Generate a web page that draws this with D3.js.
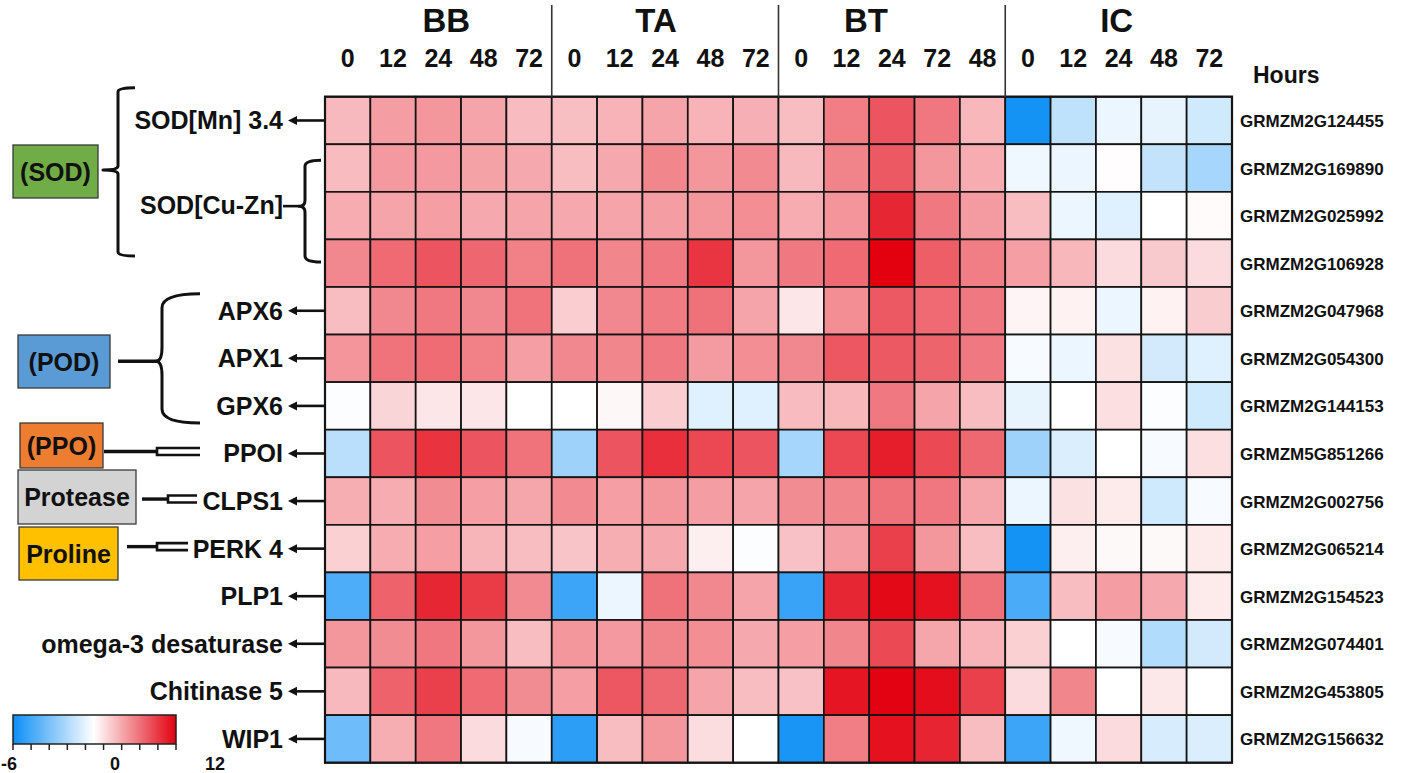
<!DOCTYPE html>
<html>
<head>
<meta charset="utf-8">
<script src="https://cdn.jsdelivr.net/npm/d3@7"></script>
<style>
  html, body { margin: 0; padding: 0; background: #ffffff; }
  svg { display: block; }
  text { font-family: "Liberation Sans", Arial, sans-serif; font-weight: bold; fill: #111; }
</style>
</head>
<body>
<svg id="chart" width="1416" height="773"></svg>
<script>
// ---------------- DATA ----------------
const groups = ["BB", "TA", "BT", "IC"];
const hoursBB = ["0", "12", "24", "48", "72"];
const hoursTA = ["0", "12", "24", "48", "72"];
const hoursBT = ["0", "12", "24", "72", "48"];
const hoursIC = ["0", "12", "24", "48", "72"];

const geneIds = ["GRMZM2G124455", "GRMZM2G169890", "GRMZM2G025992", "GRMZM2G106928",
  "GRMZM2G047968", "GRMZM2G054300", "GRMZM2G144153", "GRMZM5G851266", "GRMZM2G002756",
  "GRMZM2G065214", "GRMZM2G154523", "GRMZM2G074401", "GRMZM2G453805", "GRMZM2G156632"];

// left-hand gene names (null = covered by the SOD[Cu-Zn] bracket)
const geneNames = ["SOD[Mn] 3.4", null, null, null, "APX6", "APX1", "GPX6", "PPOI", "CLPS1",
  "PERK 4", "PLP1", "omega-3 desaturase", "Chitinase 5", "WIP1"];
const bracketLabel = { name: "SOD[Cu-Zn]", rows: [1, 3] };

// enzyme classes: [label, first row, last row]
const enzymeClasses = ["(SOD)", "(POD)", "(PPO)", "Protease", "Proline"];
const enzymeRows = [[0, 3], [4, 6], [7, 7], [8, 8], [9, 9]];

// expression values, rows = genes, columns = hours
const valuesBB = [
  [3.3, 4.6, 4.9, 4.3, 3.2],
  [3.2, 4.8, 4.8, 4.4, 4.1],
  [3.9, 4.3, 4.5, 4.1, 4.3],
  [5.6, 7.0, 8.0, 7.2, 6.0],
  [3.1, 5.6, 6.3, 5.6, 6.6],
  [5.0, 6.6, 6.9, 6.0, 4.5],
  [-0.1, 2.0, 1.2, 1.2, 0.0],
  [-1.7, 8.0, 9.6, 8.0, 6.6],
  [3.8, 3.9, 5.4, 4.5, 4.2],
  [2.2, 3.9, 4.5, 3.5, 3.1],
  [-4.4, 7.4, 10.2, 9.2, 5.5],
  [4.9, 5.4, 6.4, 4.9, 3.1],
  [3.3, 7.4, 9.0, 7.0, 5.4],
  [-3.6, 3.8, 6.4, 1.7, -0.2]
];
const valuesTA = [
  [3.0, 3.6, 4.3, 3.6, 3.7],
  [3.1, 4.1, 5.7, 4.9, 5.5],
  [4.1, 4.3, 4.6, 4.9, 5.3],
  [6.7, 5.7, 6.3, 9.5, 4.9],
  [2.3, 5.6, 6.2, 6.7, 4.3],
  [5.6, 5.7, 6.3, 4.7, 5.3],
  [0.0, 0.4, 2.3, -0.8, -0.8],
  [-2.4, 8.0, 9.8, 8.6, 8.0],
  [5.5, 4.5, 4.9, 4.6, 4.3],
  [2.8, 3.8, 4.1, 0.8, -0.1],
  [-4.8, -0.5, 6.7, 5.6, 4.3],
  [4.9, 4.8, 5.8, 5.3, 4.1],
  [4.5, 7.9, 7.1, 4.3, 3.1],
  [-5.2, 3.1, 4.9, 1.6, 0.0]
];
const valuesBT = [
  [3.1, 6.1, 8.0, 6.4, 3.4],
  [3.3, 5.8, 7.8, 4.9, 3.9],
  [3.9, 5.0, 10.2, 6.3, 4.7],
  [6.3, 7.0, 12.0, 7.6, 6.1],
  [1.2, 5.3, 7.8, 7.0, 6.3],
  [5.6, 7.9, 7.8, 7.3, 6.3],
  [3.2, 3.4, 6.3, 4.3, 3.1],
  [-2.2, 8.6, 10.6, 8.5, 7.1],
  [5.4, 5.7, 6.7, 6.4, 4.2],
  [2.9, 4.6, 9.0, 4.9, 3.1],
  [-4.9, 10.2, 11.6, 11.2, 6.7],
  [4.5, 5.7, 8.5, 4.2, 3.6],
  [2.9, 11.0, 11.9, 11.4, 9.0],
  [-5.7, 6.1, 11.2, 10.3, 3.1]
];
const valuesIC = [
  [-5.8, -1.6, -0.5, -0.6, -1.2],
  [-0.4, -0.5, 0.1, -1.5, -2.2],
  [3.1, -0.5, -0.8, 0.0, 0.2],
  [4.5, 3.4, 1.7, 2.5, 1.7],
  [0.5, 0.6, -0.5, 0.6, 2.4],
  [-0.2, -0.5, 1.4, -1.1, -0.8],
  [-0.6, 0.0, 1.5, -0.1, -1.2],
  [-2.4, -0.9, 0.0, -0.2, 1.5],
  [-0.5, 1.4, 1.0, -1.2, -0.2],
  [-5.8, 0.8, 0.3, 0.3, 1.0],
  [-4.5, 3.1, 4.6, 4.1, 1.0],
  [2.2, 0.0, -0.2, -1.9, -1.1],
  [1.7, 5.7, 0.0, 1.1, 0.0],
  [-4.8, -0.4, 1.7, -1.0, -0.9]
];

const legendLabels = [-6, 0, 12];

// ---------------- BUILD ----------------
const groupHours = [hoursBB, hoursTA, hoursBT, hoursIC];
const groupValues = [valuesBB, valuesTA, valuesBT, valuesIC];
const columns = [];
groups.forEach((g, gi) => groupHours[gi].forEach((h, hi) => columns.push({ key: g + "_" + hi, group: g, gi, hour: h, hi })));
const cells = [];
geneIds.forEach((id, r) => columns.forEach(c => cells.push({ row: r, col: c.key, v: groupValues[c.gi][r][c.hi] })));

const svg = d3.select("#chart");
svg.append("rect").attr("width", 1416).attr("height", 773).attr("fill", "#fff");

const x = d3.scaleBand().domain(columns.map(c => c.key)).range([325, 1232]);
const y = d3.scaleBand().domain(d3.range(geneIds.length)).range([96.7, 762.7]);
const color = d3.scaleLinear().domain([-6, 0, 12]).range(["#0d8ff5", "#ffffff", "#e3000f"]).interpolate(d3.interpolateRgb).clamp(true);
const cy = r => y(r) + y.bandwidth() / 2;

// cells
svg.append("g").selectAll("rect").data(cells).join("rect")
  .attr("x", d => x(d.col)).attr("y", d => y(d.row))
  .attr("width", x.bandwidth()).attr("height", y.bandwidth())
  .attr("fill", d => color(d.v))
  .attr("stroke", "#141414").attr("stroke-width", 1.7);
svg.append("rect").attr("x", 325).attr("y", 96.7).attr("width", 907).attr("height", 666)
  .attr("fill", "none").attr("stroke", "#141414").attr("stroke-width", 2.2);

// group dividers & labels
const groupShift = [8, -9, -26, -2];
groups.forEach((g, gi) => {
  const cols = columns.filter(c => c.gi === gi);
  const mid = x(cols[2].key) + x.bandwidth() / 2;
  svg.append("text").attr("x", mid + groupShift[gi]).attr("y", 32).attr("text-anchor", "middle")
    .attr("font-size", 33).text(g);
  if (gi > 0) {
    const bx = x(cols[0].key);
    svg.append("line").attr("x1", bx).attr("x2", bx).attr("y1", 5).attr("y2", 97)
      .attr("stroke", "#333").attr("stroke-width", 1.6);
  }
});
svg.append("g").selectAll("text").data(columns).join("text")
  .attr("x", d => x(d.key) + x.bandwidth() / 2).attr("y", 67)
  .attr("text-anchor", "middle").attr("font-size", 25).text(d => d.hour);
svg.append("text").attr("x", 1253).attr("y", 83).attr("font-size", 23).text("Hours");

// right gene ids
svg.append("g").selectAll("text").data(geneIds).join("text")
  .attr("x", 1240).attr("y", (d, i) => cy(i) + 6.5).attr("font-size", 17).text(d => d);

// left gene names with arrows
const named = geneNames.map((n, i) => ({ n, i })).filter(d => d.n);
svg.append("g").selectAll("text").data(named).join("text")
  .attr("x", 283).attr("y", d => cy(d.i) + 9).attr("text-anchor", "end").attr("font-size", 25).text(d => d.n);
const arrows = svg.append("g").selectAll("g").data(named).join("g");
arrows.append("line").attr("x1", 294).attr("x2", 324).attr("y1", d => cy(d.i)).attr("y2", d => cy(d.i))
  .attr("stroke", "#111").attr("stroke-width", 2.6);
arrows.append("path").attr("d", d => `M288,${cy(d.i)} L297,${cy(d.i) - 4.5} L297,${cy(d.i) + 4.5} Z`).attr("fill", "#111");

// brace helper ("{" shape opening right)
function brace(xv, y0, y1, ym, hook, tip, r) {
  return `M${xv + hook},${y0} Q${xv},${y0} ${xv},${y0 + r} L${xv},${ym - r} Q${xv},${ym} ${xv - tip},${ym}` +
    ` Q${xv},${ym} ${xv},${ym + r} L${xv},${y1 - r} Q${xv},${y1} ${xv + hook},${y1}`;
}
const braceStyle = s => s.attr("fill", "none").attr("stroke", "#111").attr("stroke-width", 3).attr("stroke-linejoin", "round");

// SOD[Cu-Zn] bracket
const bTop = y(bracketLabel.rows[0]) + 16, bBot = y(bracketLabel.rows[1]) + y.bandwidth() - 25;
const bMid = (bTop + bBot) / 2;
svg.append("text").attr("x", 283).attr("y", bMid + 3).attr("text-anchor", "end").attr("font-size", 25).text(bracketLabel.name);
svg.append("line").attr("x1", 283).attr("x2", 299).attr("y1", bMid - 5).attr("y2", bMid - 5).attr("stroke", "#111").attr("stroke-width", 2.6);
svg.append("path").attr("d", brace(305, bTop, bBot, bMid - 5, 16, 6, 6)).call(braceStyle);

// SOD class brace
const sTop = y(enzymeRows[0][0]) - 9, sBot = y(enzymeRows[0][1]) + y.bandwidth() - 31;
svg.append("path").attr("d", brace(118, sTop, sBot, 170, 17, 15, 4)).call(braceStyle);
// POD class brace
const pTop = cy(enzymeRows[1][0]) - 17, pBot = cy(enzymeRows[1][1]) + 17;
const pMid = (pTop + pBot) / 2 + 3;
svg.append("path").attr("d", brace(162, pTop, pBot, pMid, 38, 6, 14)).call(braceStyle);
svg.append("line").attr("x1", 118).attr("x2", 158).attr("y1", pMid).attr("y2", pMid).attr("stroke", "#111").attr("stroke-width", 3.5);

// enzyme class boxes
const boxFill = ["#70ad47", "#5b9bd5", "#ed7d31", "#d3d3d3", "#ffc000"];
const boxGeom = [[13, 145, 85, 53], [18, 335, 92, 53], [20, 423, 83, 45], [18, 470, 118, 54], [19, 527, 99, 53]];
enzymeClasses.forEach((name, i) => {
  const [bx, by, bw, bh] = boxGeom[i];
  svg.append("rect").attr("x", bx).attr("y", by).attr("width", bw).attr("height", bh)
    .attr("fill", boxFill[i]).attr("stroke", "#3a3a3a").attr("stroke-width", 1.3);
  svg.append("text").attr("x", bx + bw / 2).attr("y", by + bh / 2 + 9).attr("text-anchor", "middle")
    .attr("font-size", 25).text(name);
});
// connectors for single-gene classes
const conn = [[2, 104, 157, 200], [3, 142, 168, 197], [4, 127, 157, 188]];
conn.forEach(([ci, a, b, c]) => {
  const yy = cy(enzymeRows[ci][0]) - 2;
  svg.append("line").attr("x1", a).attr("x2", b).attr("y1", yy).attr("y2", yy).attr("stroke", "#111").attr("stroke-width", 3.4);
  svg.append("path").attr("d", `M${c},${yy - 3.5} L${b},${yy - 3.5} L${b},${yy + 3.5} L${c},${yy + 3.5}`)
    .attr("fill", "none").attr("stroke", "#111").attr("stroke-width", 2.6);
});

// legend
const lx = d3.scaleLinear().domain([-6, 0, 12]).range([13, 94, 176]);
const defs = svg.append("defs");
const grad = defs.append("linearGradient").attr("id", "lg").attr("x1", "0%").attr("x2", "100%");
d3.range(-6, 12.01, 0.5).forEach(v => {
  grad.append("stop").attr("offset", ((lx(v) - 13) / 163 * 100) + "%").attr("stop-color", color(v));
});
svg.append("rect").attr("x", 13).attr("y", 715).attr("width", 163).attr("height", 29)
  .attr("fill", "url(#lg)").attr("stroke", "#222").attr("stroke-width", 1.5);
svg.append("g").selectAll("line").data(d3.range(10)).join("line")
  .attr("x1", i => 13 + i * 163 / 9).attr("x2", i => 13 + i * 163 / 9)
  .attr("y1", 744).attr("y2", 750).attr("stroke", "#222").attr("stroke-width", 1.5);
const labelPos = d3.scaleLinear().domain([-6, 0, 12]).range([9, 115, 215]);
svg.append("g").selectAll("text").data(legendLabels).join("text")
  .attr("x", d => labelPos(d)).attr("y", 770).attr("text-anchor", "middle").attr("font-size", 18).text(d => d);
</script>
</body>
</html>
